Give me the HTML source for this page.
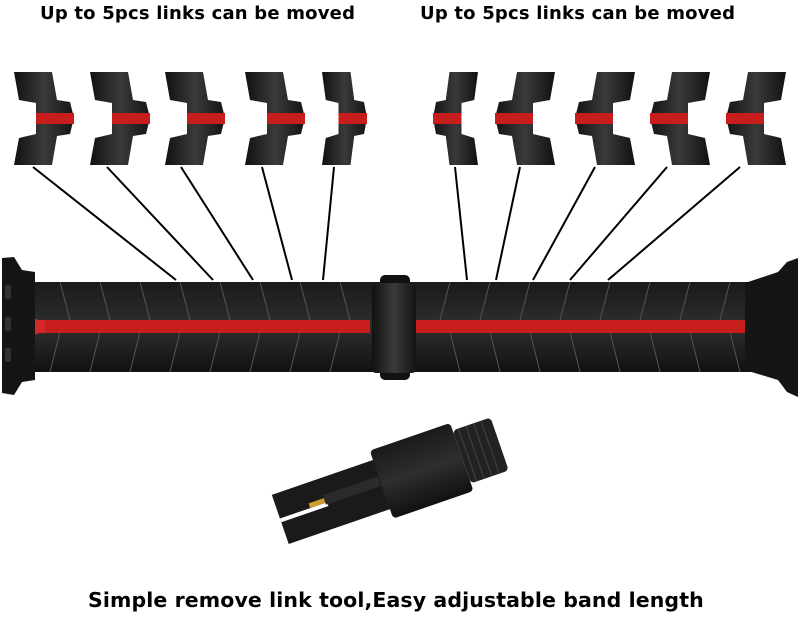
<!DOCTYPE html>
<html><head><meta charset="utf-8"><style>
html,body{margin:0;padding:0;background:#fff;}
body{width:800px;height:619px;overflow:hidden;position:relative;font-family:"DejaVu Sans","Liberation Sans",sans-serif;}
.t{position:absolute;font-weight:bold;color:#000;white-space:nowrap;}
</style></head><body>
<div class="t" style="left:40px;top:3px;font-size:18px;letter-spacing:0.2px;">Up to 5pcs links can be moved</div>
<div class="t" style="left:420px;top:3px;font-size:18px;letter-spacing:0.2px;">Up to 5pcs links can be moved</div>
<div class="t" style="left:88px;top:588px;font-size:20.5px;letter-spacing:0.1px;">Simple remove link tool,Easy adjustable band length</div>
<svg width="800" height="619" style="position:absolute;left:0;top:0">
<defs>
<linearGradient id="lg" x1="0" x2="1" y1="0" y2="0">
<stop offset="0" stop-color="#111"/><stop offset="0.5" stop-color="#3a3a3a"/><stop offset="1" stop-color="#141414"/>
</linearGradient>
<linearGradient id="bg" x1="0" x2="0" y1="0" y2="1">
<stop offset="0" stop-color="#1a1a1a"/><stop offset="0.5" stop-color="#2e2e2e"/><stop offset="1" stop-color="#111"/>
</linearGradient>
<g id="lk">
<polygon points="0,0 38,0 43,28 56,30 60,46 56,62 43,64 38,93 0,93 5,66 22,62 22,31 5,28" fill="url(#lg)"/>
<rect x="22" y="41" width="38" height="11" fill="#c81d1d"/>
</g>
</defs>
<use href="#lk" x="14" y="72"/>
<use href="#lk" x="90" y="72"/>
<use href="#lk" x="165" y="72"/>
<use href="#lk" x="245" y="72"/>
<use href="#lk" x="322" y="72" transform="translate(322 72) scale(0.75 1) translate(-322 -72)"/>
<g transform="translate(800 0) scale(-1 1)">
<use href="#lk" x="14" y="72"/>
<use href="#lk" x="90" y="72"/>
<use href="#lk" x="165" y="72"/>
<use href="#lk" x="245" y="72"/>
<use href="#lk" x="322" y="72" transform="translate(322 72) scale(0.75 1) translate(-322 -72)"/>
</g>
<g stroke="#000" stroke-width="2">
<line x1="33" y1="167" x2="176" y2="280"/>
<line x1="107" y1="167" x2="213" y2="280"/>
<line x1="181" y1="167" x2="253" y2="280"/>
<line x1="262" y1="167" x2="292" y2="280"/>
<line x1="334" y1="167" x2="323" y2="280"/>
<line x1="455" y1="167" x2="467" y2="280"/>
<line x1="520" y1="167" x2="496" y2="280"/>
<line x1="595" y1="167" x2="533" y2="280"/>
<line x1="667" y1="167" x2="570" y2="280"/>
<line x1="740" y1="167" x2="608" y2="280"/>
</g>
<rect x="18" y="282" width="750" height="90" fill="url(#bg)"/>
<g stroke="#555" stroke-width="1" fill="none">
<path d="M60,282 l10,38 -10,12 -10,40 M100,282 l10,38 -10,12 -10,40 M140,282 l10,38 -10,12 -10,40 M180,282 l10,38 -10,12 -10,40 M220,282 l10,38 -10,12 -10,40 M260,282 l10,38 -10,12 -10,40 M300,282 l10,38 -10,12 -10,40 M340,282 l10,38 -10,12 -10,40"/>
<path d="M450,282 l-10,38 10,12 10,40 M490,282 l-10,38 10,12 10,40 M530,282 l-10,38 10,12 10,40 M570,282 l-10,38 10,12 10,40 M610,282 l-10,38 10,12 10,40 M650,282 l-10,38 10,12 10,40 M690,282 l-10,38 10,12 10,40 M730,282 l-10,38 10,12 10,40"/>
</g>
<rect x="40" y="320" width="330" height="13" fill="#c81d1d"/>
<rect x="416" y="320" width="342" height="13" fill="#c81d1d"/>
<path d="M22,310 Q35,322 45,320 L45,333 Q35,331 22,345 Z" fill="#d52828"/>
<path d="M778,310 Q765,322 755,320 L755,333 Q765,331 778,345 Z" fill="#d52828"/>
<path d="M2,258 L14,257 L22,270 L35,272 L35,380 L22,382 L14,395 L2,393 Z" fill="#151515"/>
<rect x="5" y="285" width="6" height="14" rx="2" fill="#333"/>
<rect x="5" y="317" width="6" height="14" rx="2" fill="#333"/>
<rect x="5" y="348" width="6" height="14" rx="2" fill="#333"/>
<path d="M798,258 L787,262 L778,272 L745,283 L745,370 L778,380 L787,392 L798,397 Z" fill="#151515"/>
<rect x="380" y="275" width="30" height="12" rx="5" fill="#111"/>
<rect x="380" y="368" width="30" height="12" rx="5" fill="#111"/>
<rect x="372" y="283" width="44" height="90" rx="4" fill="url(#lg)"/>
<g transform="translate(6 0) rotate(-19 395 480)">
<rect x="268" y="452" width="110" height="52" fill="#1a1a1a"/>
<rect x="268" y="477" width="50" height="4" fill="#fff"/>
<rect x="316" y="469" width="58" height="10" fill="#2b2b2b"/>
<rect x="300" y="472" width="16" height="5" fill="#c9a030"/>
<rect x="375" y="442" width="85" height="72" rx="4" fill="url(#bg)"/>
<rect x="460" y="450" width="40" height="56" rx="4" fill="#222"/>
<g stroke="#444" stroke-width="1"><line x1="466" y1="450" x2="466" y2="506"/><line x1="474" y1="450" x2="474" y2="506"/><line x1="482" y1="450" x2="482" y2="506"/><line x1="490" y1="450" x2="490" y2="506"/></g>
</g>
</svg>
</body></html>
